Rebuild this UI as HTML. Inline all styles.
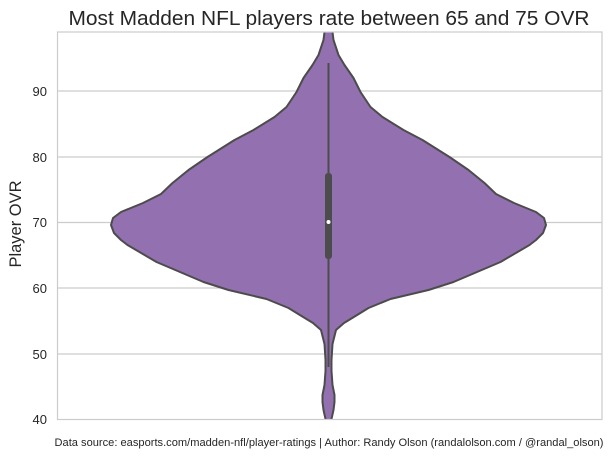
<!DOCTYPE html>
<html><head><meta charset="utf-8"><style>
html,body{margin:0;padding:0;background:#fff;}
svg{display:block;font-family:"Liberation Sans",Arial,sans-serif;}
</style></head><body>
<svg width="613" height="456" viewBox="0 0 613 456" xmlns="http://www.w3.org/2000/svg">
<rect width="613" height="456" fill="#fff"/>
<text x="329" y="25" font-size="20.5" text-anchor="middle" fill="#262626" textLength="521" lengthAdjust="spacingAndGlyphs">Most Madden NFL players rate between 65 and 75 OVR</text>
<g stroke="#cccccc" stroke-width="1.2">
<line x1="57.5" y1="91" x2="602" y2="91"/>
<line x1="57.5" y1="157" x2="602" y2="157"/>
<line x1="57.5" y1="222.5" x2="602" y2="222.5"/>
<line x1="57.5" y1="288" x2="602" y2="288"/>
<line x1="57.5" y1="354" x2="602" y2="354"/>
</g>
<g font-size="13" fill="#262626" text-anchor="end">
<text x="47" y="96">90</text>
<text x="47" y="162">80</text>
<text x="47" y="227">70</text>
<text x="47" y="293">60</text>
<text x="47" y="359">50</text>
<text x="47" y="424">40</text>
</g>
<text transform="translate(21,224) rotate(-90)" font-size="16.5" text-anchor="middle" fill="#262626">Player OVR</text>
<defs><clipPath id="c"><rect x="57.5" y="32" width="544.5" height="387.5"/></clipPath></defs>
<g clip-path="url(#c)">
<path fill="#9370b0" stroke="#4c4c4c" stroke-width="2" stroke-linejoin="round" d="
M328.5,28 L332.5,32 L333.5,40 L338.5,55 L344.5,65 L353.5,78 L360.5,92 L370.5,107 L382.5,117 L403.5,130 L422.5,140 L449.5,157 L468.5,170 L484.5,183 L496,194 L514,203 L536,212 L544,218 L546,225 L543,233 L536,240 L529.5,245 L500.5,262 L453.5,282 L428.5,290 L390.5,299 L368.5,308 L355.5,316 L344,323 L336,330 L332.5,344 L331.5,360 L331.5,371 L332.5,385 L334.5,395 L334.5,402 L333.5,410 L331.5,419 L331.5,424
L325.5,424 L325.5,419 L323.5,410 L322.5,402 L322.5,395 L324.5,385 L325.5,371 L325.5,360 L324.5,344 L321,330 L313,323 L301.5,316 L288.5,308 L266.5,299 L228.5,290 L203.5,282 L156.5,262 L127.5,245 L121,240 L114,233 L111,225 L113,218 L121,212 L143,203 L161,194 L172.5,183 L188.5,170 L207.5,157 L234.5,140 L253.5,130 L274.5,117 L286.5,107 L296.5,92 L303.5,78 L312.5,65 L318.5,55 L323.5,40 L324.5,32 Z"/>
</g>
<line x1="328.5" y1="63" x2="328.5" y2="367" stroke="#4c4c4c" stroke-width="2"/>
<rect x="325" y="173" width="7" height="86" rx="3" fill="#4c4c4c"/>
<circle cx="328.5" cy="222" r="2" fill="#fff"/>
<rect x="57.5" y="32" width="544.5" height="387.5" fill="none" stroke="#cccccc" stroke-width="1.2"/>
<text x="329" y="446" font-size="11" text-anchor="middle" fill="#262626" textLength="549" lengthAdjust="spacingAndGlyphs">Data source: easports.com/madden-nfl/player-ratings | Author: Randy Olson (randalolson.com / @randal_olson)</text>
</svg>
</body></html>
